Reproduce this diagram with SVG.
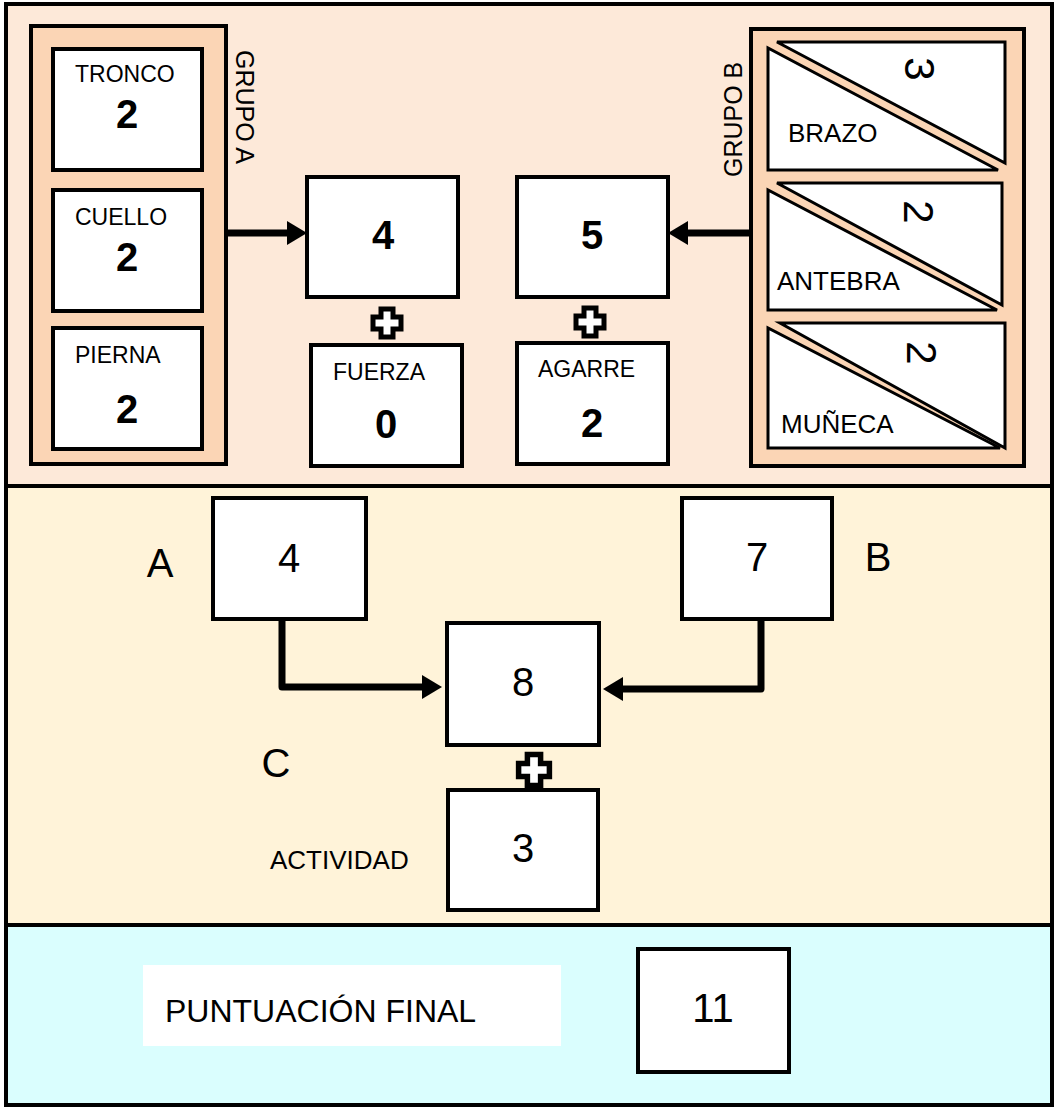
<svg xmlns="http://www.w3.org/2000/svg" width="1055" height="1108" viewBox="0 0 1055 1108">
<style>
.sec{stroke:#000;stroke-width:4}
.frame{fill:#FBD5B5;stroke:#000;stroke-width:4}
.box{fill:#fff;stroke:#000;stroke-width:4}
.tri{fill:#fff;stroke:#000;stroke-width:3;stroke-linejoin:miter}
.conn{fill:none;stroke:#000;stroke-width:7;stroke-linejoin:round}
text{font-family:"Liberation Sans",Arial,sans-serif;fill:#000}
.lbl{font-size:23px}
.lblb{font-size:26px}
.num{font-size:40px;font-weight:bold;text-anchor:middle}
.big{font-size:40px;text-anchor:middle}
.grp{font-size:25px}
.plus{fill:#fff;stroke:#000;stroke-width:5;stroke-linejoin:miter}
</style>
<defs>
<marker id="ah" markerUnits="userSpaceOnUse" viewBox="0 0 20 24" refX="0" refY="12" markerWidth="20" markerHeight="24" orient="auto">
<path d="M0,0 L20,12 L0,24 Z" fill="#000"/>
</marker>
<path id="plus" d="M-6,-14 H6 V-6 H14 V6 H6 V14 H-6 V6 H-14 V-6 H-6 Z"/>
</defs>

<g id="sections">
<rect class="sec" x="6" y="4" width="1046" height="482" fill="#FDE9D9"/>
<rect class="sec" x="6" y="486" width="1046" height="439" fill="#FFF3D9"/>
<rect class="sec" x="6" y="925" width="1046" height="180" fill="#DAFEFE"/>
</g>

<g id="grupoA">
<rect class="frame" x="31" y="26" width="195" height="438"/>
<text class="grp" transform="translate(236,50) rotate(90)">GRUPO A</text>
</g>
<g id="tronco">
<rect class="box" x="53" y="49" width="149" height="121"/>
<text class="lbl" x="75" y="82">TRONCO</text>
<text class="num" x="127" y="128">2</text>
</g>
<g id="cuello">
<rect class="box" x="53" y="190" width="149" height="121"/>
<text class="lbl" x="75" y="225">CUELLO</text>
<text class="num" x="127" y="271">2</text>
</g>
<g id="pierna">
<rect class="box" x="53" y="328" width="149" height="121"/>
<text class="lbl" x="75" y="363">PIERNA</text>
<text class="num" x="127" y="423">2</text>
</g>

<g id="grupoB">
<rect class="frame" x="751" y="29" width="273" height="437"/>
<text class="grp" transform="translate(742,177) rotate(-90)">GRUPO B</text>
</g>
<g id="brazo">
<polygon class="tri" points="777,42 1005,42 1005,163"/>
<polygon class="tri" points="768,48 768,170 998,170"/>
<text class="lblb" x="788" y="142">BRAZO</text>
<text class="big" transform="translate(919,69) rotate(90)" x="0" y="14" style="font-size:42px">3</text>
</g>
<g id="antebra">
<polygon class="tri" points="777,183 1002,183 1002,305"/>
<polygon class="tri" points="768,190 768,310 997,310"/>
<text class="lblb" x="777" y="290">ANTEBRA</text>
<text class="big" transform="translate(918,212) rotate(90)" x="0" y="14" style="font-size:42px">2</text>
</g>
<g id="muneca">
<polygon class="tri" points="780,323 1005,323 1005,448"/>
<polygon class="tri" points="768,328 768,448 1000,448"/>
<text class="lblb" x="781" y="433">MUÑECA</text>
<text class="big" transform="translate(921,353) rotate(90)" x="0" y="14" style="font-size:42px">2</text>
</g>

<g id="totalA">
<rect class="box" x="307" y="177" width="151" height="120"/>
<text class="num" x="383" y="249">4</text>
</g>
<g id="totalB">
<rect class="box" x="517" y="177" width="151" height="120"/>
<text class="num" x="592" y="249">5</text>
</g>
<g id="fuerza">
<rect class="box" x="311" y="345" width="151" height="121"/>
<text class="lbl" x="333" y="380">FUERZA</text>
<text class="num" x="386" y="438">0</text>
</g>
<g id="agarre">
<rect class="box" x="517" y="343" width="151" height="121"/>
<text class="lbl" x="538" y="377">AGARRE</text>
<text class="num" x="592" y="437">2</text>
</g>

<g id="scoreA">
<rect class="box" x="213" y="498" width="153" height="121"/>
<text class="big" x="289" y="572">4</text>
<text class="big" x="160" y="577">A</text>
</g>
<g id="scoreB">
<rect class="box" x="682" y="498" width="150" height="121"/>
<text class="big" x="757" y="571">7</text>
<text class="big" x="878" y="571">B</text>
</g>
<g id="scoreC">
<rect class="box" x="447" y="623" width="152" height="122"/>
<text class="big" x="523" y="696">8</text>
<text class="big" x="276" y="777">C</text>
</g>
<g id="actividad">
<rect class="box" x="448" y="790" width="150" height="120"/>
<text class="big" x="523" y="862">3</text>
<text class="lbl" x="270" y="869" style="font-size:26px">ACTIVIDAD</text>
</g>

<g id="final">
<rect x="143" y="965" width="418" height="81" fill="#fff"/>
<text x="165" y="1022" style="font-size:32px">PUNTUACIÓN FINAL</text>
</g>
<g id="finalScore">
<rect class="box" x="638" y="949" width="151" height="123"/>
<text class="big" x="713" y="1022">11</text>
</g>

<g id="connectors">
<path class="conn" d="M227,233 H287" marker-end="url(#ah)"/>
<path class="conn" d="M751,233 H688" marker-end="url(#ah)"/>
<path class="conn" d="M282,619 V687 H422" marker-end="url(#ah)"/>
<path class="conn" d="M761,619 V689 H623" marker-end="url(#ah)"/>
<use href="#plus" class="plus" transform="translate(387,323)"/>
<use href="#plus" class="plus" transform="translate(590,322)"/>
<use href="#plus" class="plus" transform="translate(534,770) scale(1.1)"/>
</g>
</svg>
